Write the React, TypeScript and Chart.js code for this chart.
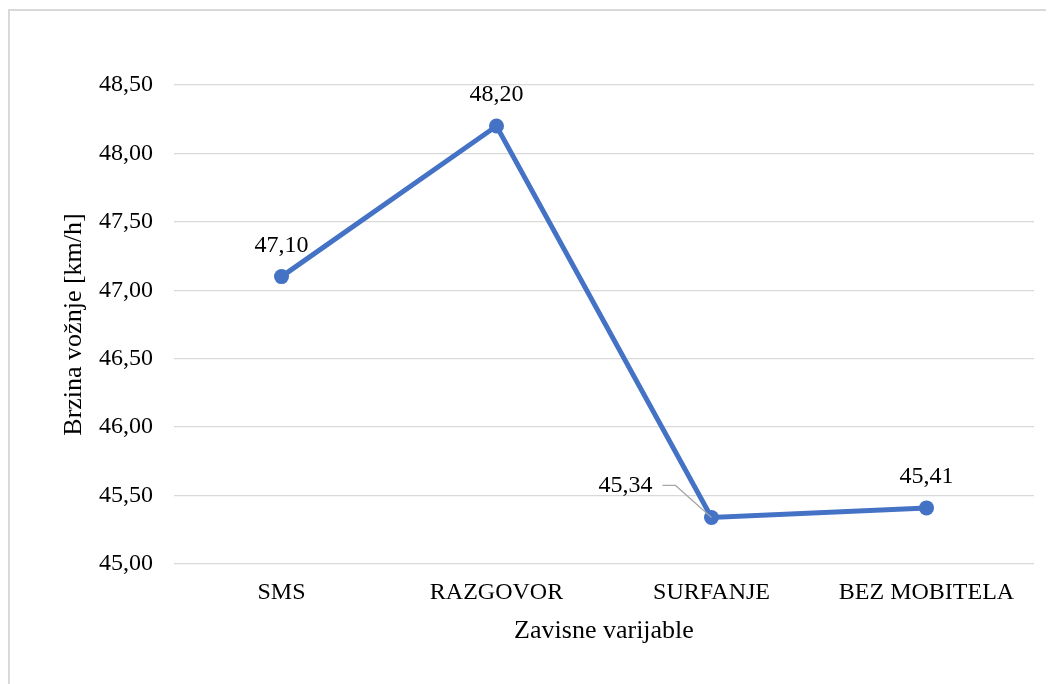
import React, { useEffect, useRef } from "react";
import { Chart, registerables } from "chart.js";

Chart.register(...registerables);

const categories = ["SMS", "RAZGOVOR", "SURFANJE", "BEZ MOBITELA"];
const speedValues = [47.1, 48.2, 45.34, 45.41];
const yMin = 45;
const yMax = 48.5;
const yStep = 0.5;
const xTitle = "Zavisne varijable";
const yTitle = "Brzina vožnje [km/h]";

const FONT = "'Liberation Serif', 'Times New Roman', serif";
const fmt = (v: number) => v.toFixed(2).replace(".", ",");

const labelPlugin = {
  id: "pointLabels",
  afterDatasetsDraw(chart: any) {
    const ctx = chart.ctx;
    const meta = chart.getDatasetMeta(0);
    ctx.save();
    ctx.font = `24px ${FONT}`;
    ctx.fillStyle = "#000";
    ctx.textBaseline = "middle";
    meta.data.forEach((pt: any, i: number) => {
      const txt = fmt(speedValues[i]);
      if (i === 2) {
        const tx = pt.x - 59;
        const ty = pt.y - 32;
        ctx.textAlign = "right";
        ctx.fillText(txt, tx, ty);
        ctx.strokeStyle = "#a6a6a6";
        ctx.lineWidth = 1.2;
        ctx.beginPath();
        ctx.moveTo(tx + 10, ty);
        ctx.lineTo(tx + 23, ty);
        ctx.lineTo(pt.x, pt.y);
        ctx.stroke();
      } else {
        ctx.textAlign = "center";
        ctx.fillText(txt, pt.x, pt.y - 31);
      }
    });
    ctx.restore();
  },
};

export default function App() {
  const canvasRef = useRef<HTMLCanvasElement | null>(null);

  useEffect(() => {
    if (!canvasRef.current) return;
    const chart = new Chart(canvasRef.current, {
      type: "line",
      data: {
        labels: categories,
        datasets: [
          {
            data: speedValues,
            borderColor: "#4472C4",
            backgroundColor: "#4472C4",
            borderWidth: 5,
            pointRadius: 7.5,
            pointBackgroundColor: "#4472C4",
            pointBorderColor: "#4472C4",
            pointBorderWidth: 0,
            tension: 0,
          },
        ],
      },
      options: {
        animation: false,
        responsive: false,
        layout: { padding: { top: 74, right: 20, left: 0, bottom: 0 } },
        plugins: { legend: { display: false }, tooltip: { enabled: false } },
        scales: {
          x: {
            offset: true,
            grid: { display: false, drawTicks: false },
            border: { display: false },
            ticks: { color: "#000", font: { family: FONT, size: 24 }, padding: 14 },
            title: {
              display: true,
              text: xTitle,
              color: "#000",
              font: { family: FONT, size: 26, lineHeight: 1.2 },
              padding: { top: 0, bottom: 37 },
            },
            afterFit: (s: any) => {
              s.height = 120;
            },
          },
          y: {
            min: yMin,
            max: yMax,
            grid: { color: "#d9d9d9", lineWidth: 1.3, drawTicks: false },
            border: { display: false },
            ticks: {
              stepSize: yStep,
              color: "#000",
              font: { family: FONT, size: 24 },
              padding: 21,
              callback: (v: any) => fmt(Number(v)),
            },
            title: {
              display: true,
              text: yTitle,
              color: "#000",
              font: { family: FONT, size: 26, lineHeight: 1.2 },
              padding: { top: 49, bottom: 0 },
            },
            afterFit: (s: any) => {
              s.width = 164;
            },
          },
        },
      },
      plugins: [labelPlugin],
    });
    return () => chart.destroy();
  }, []);

  return (
    <div
      style={{
        marginTop: 1,
        width: 1046,
        height: 673,
        borderTop: "2px solid #d9d9d9",
        borderLeft: "2px solid #d9d9d9",
        overflow: "hidden",
      }}
    >
      <canvas ref={canvasRef} width={1044} height={673} style={{ display: "block" }} />
    </div>
  );
}
